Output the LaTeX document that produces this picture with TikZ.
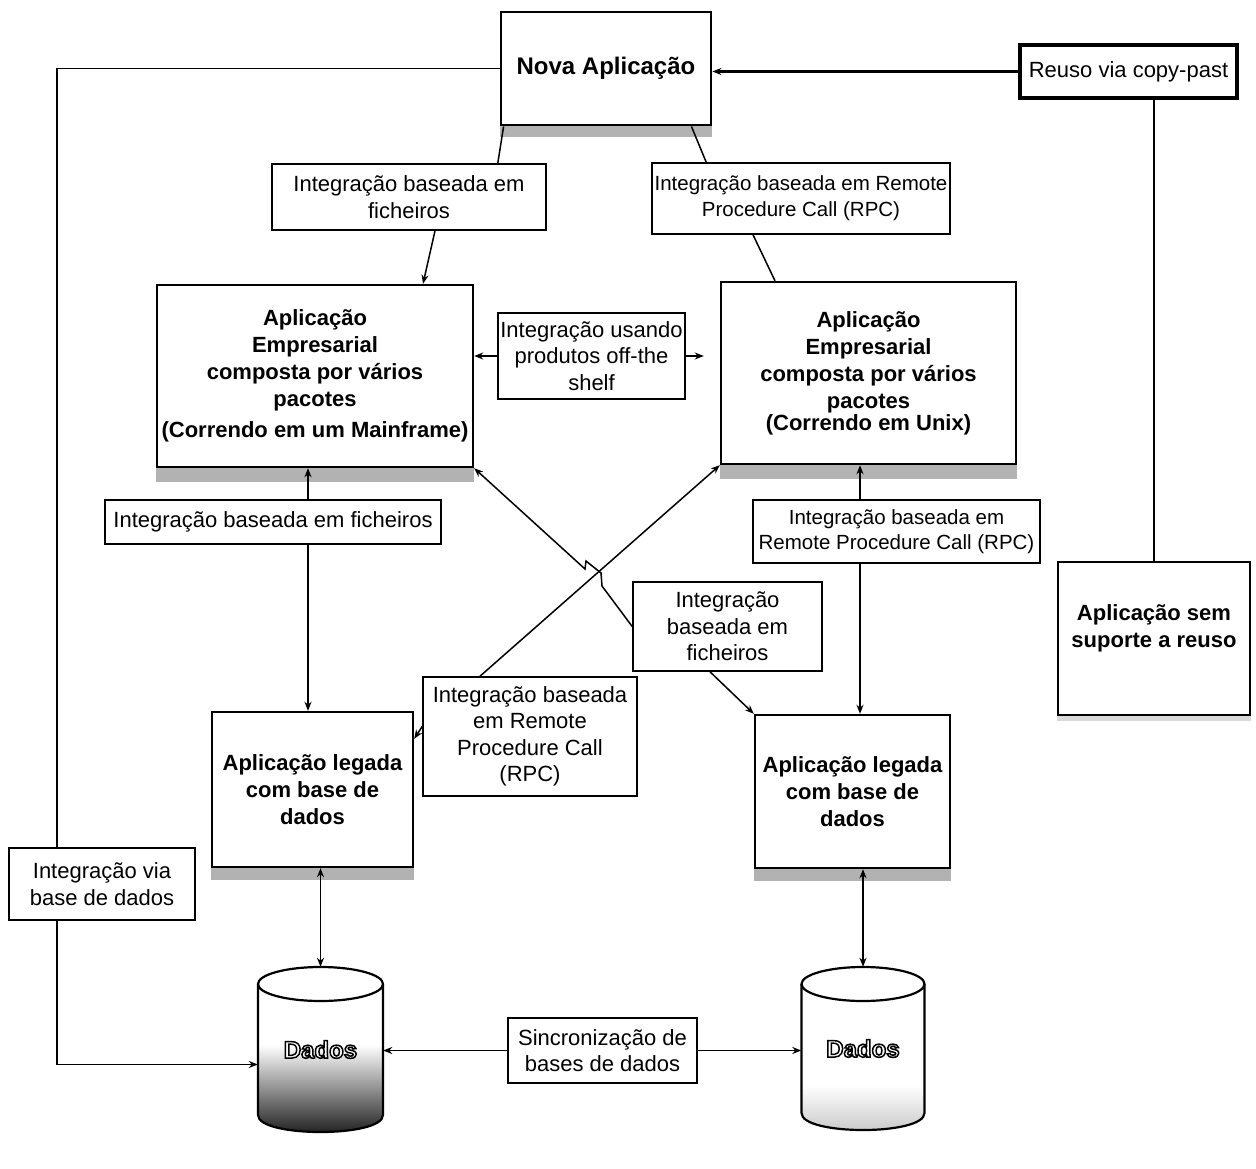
\documentclass[tikz,border=0pt]{standalone}
\usepackage{fontspec}
\setmainfont{Liberation Sans}
\usetikzlibrary{arrows.meta,backgrounds}

% white letters with a black rim (fill + stroke text rendering)
\newcommand\outlinedtext[1]{\textcolor{white}{\special{pdf:literal direct 0 G 2 Tr 1.5 w}#1\special{pdf:literal direct 0 Tr}}}
% raise content without changing its reported size
\newcommand\liftbox[2]{\raisebox{#1}[\height][\depth]{#2}}

\begin{document}
\begin{tikzpicture}[x=1pt,y=-1pt,
  every node/.style={align=center, inner sep=0pt, font=\fontsize{22}{26.5}\selectfont},
  appbox/.style={draw, line width=2.4pt, fill=white, font=\bfseries\fontsize{22}{27}\selectfont},
  tagbox/.style={draw, line width=1.6pt, fill=white},
  conn/.style={line width=1.5pt},
  tipped/.style={-{Stealth[length=9pt,width=7pt]}},
  backtip/.style={{Stealth[length=9pt,width=7pt]}-},
  bothtips/.style={{Stealth[length=9pt,width=7pt]}-{Stealth[length=9pt,width=7pt]}},
  cylline/.style={line width=2.2pt},
  shadowband/.style={fill=black!30}]

\useasboundingbox (0,0) rectangle (1256,1169);
\begin{scope}[on background layer]
  \fill[white] (0,0) rectangle (1256,1169);
\end{scope}

% ---- database cylinders ----
% left one, darkening towards the bottom
\fill[white] (258,984) -- (258,1115) .. controls (258,1137.7) and (383,1137.7) .. (383,1115) -- (383,984) -- cycle;
\begin{scope}
  \clip (258,984) -- (258,1115) .. controls (258,1137.7) and (383,1137.7) .. (383,1115) -- (383,984) -- cycle;
  \shade[top color=white, middle color=black!40, bottom color=black!90] (250,1045) rectangle (390,1136);
\end{scope}
\draw[cylline] (258,984) -- (258,1115) .. controls (258,1137.7) and (383,1137.7) .. (383,1115) -- (383,984);
\draw[cylline, fill=white] (320.5,984) ellipse [x radius=62.5pt, y radius=17pt];
% right one, almost white
\fill[white] (801.5,984) -- (801.5,1113) .. controls (801.5,1135.7) and (924.5,1135.7) .. (924.5,1113) -- (924.5,984) -- cycle;
\begin{scope}
  \clip (801.5,984) -- (801.5,1113) .. controls (801.5,1135.7) and (924.5,1135.7) .. (924.5,1113) -- (924.5,984) -- cycle;
  \shade[top color=white, bottom color=black!22] (795,1085) rectangle (930,1134);
\end{scope}
\draw[cylline] (801.5,984) -- (801.5,1113) .. controls (801.5,1135.7) and (924.5,1135.7) .. (924.5,1113) -- (924.5,984);
\draw[cylline, fill=white] (863,984) ellipse [x radius=61.5pt, y radius=17pt];

% ---- boxes ----
\node[appbox, line width=2.8pt, minimum width=210pt, minimum height=113pt,
      font=\bfseries\fontsize{24}{28}\selectfont] (nova) at (606,68.5) {Nova Aplicação};
\node[appbox, line width=3.5pt, minimum width=217pt, minimum height=53pt,
      font=\fontsize{22}{26}\selectfont] (reuso) at (1128.5,71.5) {Reuso via copy-past};
\node[appbox, line width=2pt, minimum width=192pt, minimum height=153pt] (aplsem) at (1154,638.5)
      {\liftbox{10pt}{\begin{tabular}{@{}c@{}}Aplicação sem\\suporte a reuso\end{tabular}}};

\node[tagbox, minimum width=274pt, minimum height=66pt] (labTL) at (409,197)
      {Integração baseada em\\ficheiros};
\node[tagbox, minimum width=298pt, minimum height=71pt, font=\fontsize{20.5}{26}\selectfont] (labTR) at (801,198.5)
      {Integração baseada em Remote\\Procedure Call (RPC)};

\node[appbox, minimum width=316pt, minimum height=182pt] (empL) at (315,376)
      {Aplicação\\Empresarial\\composta por vários\\pacotes\\[4pt](Correndo em um Mainframe)};
\node[appbox, minimum width=295pt, minimum height=182pt] (empR) at (868.5,373)
      {Aplicação\\Empresarial\\composta por vários\\pacotes\\[-5pt](Correndo em Unix)};
\node[tagbox, minimum width=187pt, minimum height=86pt] (shelf) at (591.5,356)
      {Integração usando\\produtos off-the\\shelf};

\node[tagbox, minimum width=336pt, minimum height=44pt] (labML) at (273,522)
      {Integração baseada em ficheiros};
\node[tagbox, minimum width=287pt, minimum height=63pt, font=\fontsize{20.5}{25}\selectfont] (labMR) at (896.5,531.5)
      {Integração baseada em\\Remote Procedure Call (RPC)};
\node[tagbox, minimum width=189pt, minimum height=89pt] (labMid) at (727.5,626.5)
      {Integração\\baseada em\\ficheiros};
\node[tagbox, minimum width=214pt, minimum height=119pt] (labRPC) at (530,736.5)
      {Integração baseada\\em Remote\\Procedure Call\\(RPC)};

\node[appbox, minimum width=201pt, minimum height=155pt] (legL) at (312.5,789.5)
      {Aplicação legada\\com base de\\dados};
\node[appbox, minimum width=195pt, minimum height=153pt] (legR) at (852.5,791.5)
      {Aplicação legada\\com base de\\dados};

\node[tagbox, minimum width=186pt, minimum height=72pt] (labDB) at (102,884)
      {Integração via\\base de dados};
\node[tagbox, minimum width=189pt, minimum height=65pt] (sync) at (602.5,1050.5)
      {Sincronização de\\bases de dados};

\node[minimum width=125pt, minimum height=165pt, font=\bfseries\fontsize{24}{28}\selectfont] (cylL) at (320.5,1049.5) {\outlinedtext{Dados}};
\node[minimum width=123pt, minimum height=163pt, font=\bfseries\fontsize{24}{28}\selectfont] (cylR) at (863,1048.5) {\outlinedtext{Dados}};

% grey shadows under the application boxes
\begin{scope}[on background layer]
  \foreach \n/\d in {nova/11pt, empL/14pt, empR/14pt, legL/12pt, legR/12pt}
    {\fill[shadowband] (\n.south west) rectangle ([yshift=-\d]\n.south east);}
  \fill[black!15] (aplsem.south west) rectangle ([yshift=-5pt]aplsem.south east);
\end{scope}

% ---- connectors ----
\coordinate (lx) at (57,0);
\coordinate (cLx) at (308,0);
\coordinate (cRx) at (860,0);

\draw[conn, line width=2.6pt, tipped] (reuso.west) -- (reuso.west -| nova.east);
\draw[conn, line width=1.8pt] (reuso.south -| aplsem.north) -- (aplsem.north);

\draw[conn] (nova.west) -| (labDB.north -| lx);
\draw[conn, tipped] (labDB.south -| lx) |- ([yshift=-15pt]cylL.west);

\draw[conn] ([xshift=4pt]nova.south west) -- ([xshift=-49pt]labTL.north east);
\draw[conn, tipped] ([xshift=26pt]labTL.south) -- ([xshift=108pt]empL.north);
\draw[conn] ([xshift=-21pt]nova.south east) -- ([xshift=55pt]labTR.north west);
\draw[conn] ([xshift=-48pt]labTR.south) -- ([xshift=-93.5pt]empR.north);

\draw[conn, tipped] (shelf.west) -- (shelf.west -| empL.east);
\draw[conn, tipped, shorten >=16pt] (shelf.east) -- (shelf.east -| empR.west);

\draw[conn, backtip] (empL.south -| cLx) -- (labML.north -| cLx);
\draw[conn, tipped] (labML.south -| cLx) -- (legL.north -| cLx);
\draw[conn, backtip] (empR.south -| cRx) -- (labMR.north -| cRx);
\draw[conn, tipped] (labMR.south -| cRx) -- (legR.north -| cRx);

\draw[conn, tipped] (labMid.west) -- (602,586) -- (601,573) -- (586,561) -- (585,569) -- (empL.south east);
\draw[conn, tipped] ([xshift=-17.5pt]labMid.south) -- (legR.north west);
\draw[conn, tipped] ([xshift=-50pt]labRPC.north) -- (empR.south west);
\draw[conn, tipped] ([yshift=10pt]labRPC.west) -- ([yshift=-28pt]legL.north east);

\draw[conn, bothtips] (legL.south -| cylL.north) -- (cylL.north);
\draw[conn, bothtips] (legR.south -| cylR.north) -- (cylR.north);
\draw[conn, tipped] (sync.west) -- (sync.west -| cylL.east);
\draw[conn, tipped] (sync.east) -- (sync.east -| cylR.west);
\end{tikzpicture}
\end{document}
